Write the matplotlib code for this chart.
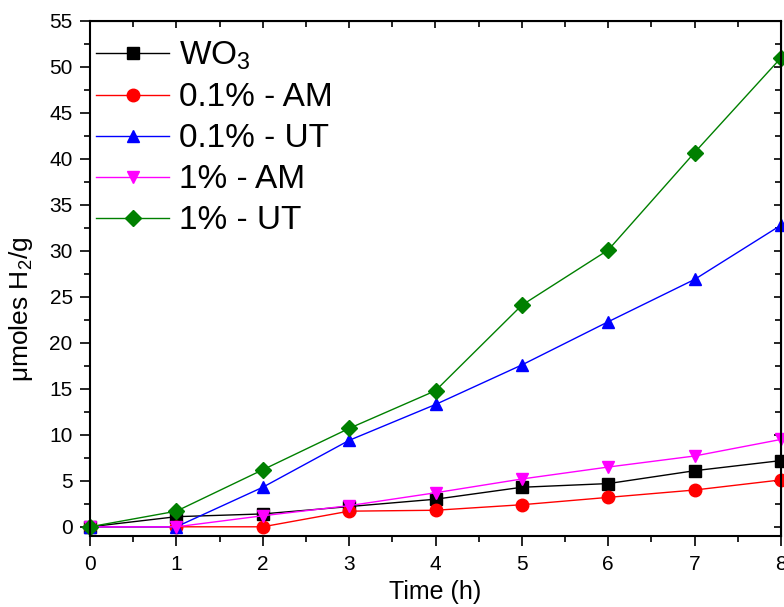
import numpy as np
import matplotlib
matplotlib.use("Agg")
import matplotlib.pyplot as plt
from matplotlib.ticker import MultipleLocator

plt.rcParams['font.family'] = ['Liberation Sans', 'DejaVu Sans']
plt.rcParams['mathtext.fontset'] = 'custom'
plt.rcParams['mathtext.rm'] = 'Liberation Sans'

hours = [0, 1, 2, 3, 4, 5, 6, 7, 8]
wo3 = [0, 1.1, 1.4, 2.2, 3.0, 4.3, 4.7, 6.1, 7.2]
am_01 = [0, 0, 0, 1.7, 1.8, 2.4, 3.2, 4.0, 5.1]
ut_01 = [0, 0, 4.3, 9.4, 13.3, 17.6, 22.3, 26.9, 32.8]
am_1 = [0, 0, 1.2, 2.3, 3.7, 5.2, 6.5, 7.7, 9.5]
ut_1 = [0, 1.7, 6.2, 10.7, 14.8, 24.1, 30.1, 40.7, 51.0]

labels = ['WO$_3$', '0.1% - AM', '0.1% - UT', '1% - AM', '1% - UT']
series = [wo3, am_01, ut_01, am_1, ut_1]
colors = ['black', 'red', 'blue', 'magenta', 'green']
markers = ['s', 'o', '^', 'v', 'D']
msizes = [8, 9, 9, 9, 8]

fig = plt.figure(figsize=(7.84, 6.07), dpi=100)
ax = fig.add_axes([90/784, 1-536/607, 691/784, 515/607])

for y, lab, c, m, ms in zip(series, labels, colors, markers, msizes):
    ax.plot(hours, y, color=c, marker=m, markersize=ms, linewidth=1, label=lab, clip_on=False)

ax.set_xlim(0, 8)
ax.set_ylim(-1, 55)
ax.xaxis.set_major_locator(MultipleLocator(1))
ax.xaxis.set_minor_locator(MultipleLocator(0.5))
ax.yaxis.set_major_locator(MultipleLocator(5))
ax.yaxis.set_minor_locator(MultipleLocator(2.5))
ax.tick_params(which='both', direction='out', labelsize=15, width=1.2)
ax.tick_params(which='major', length=7.5)
ax.tick_params(which='minor', length=4)
ax.tick_params(axis='x', which='major', pad=6.5)
ax.tick_params(axis='y', which='major', pad=5)
for s in ax.spines.values():
    s.set_linewidth(1.5)

ax.set_xlabel('Time (h)', fontsize=18, labelpad=4)
ax.set_ylabel('μmoles H$_2$/g', fontsize=19)
ax.yaxis.set_label_coords(-0.08, 0.44)

# inward ticks on top and right
top = ax.secondary_xaxis('top')
top.xaxis.set_major_locator(MultipleLocator(1))
top.xaxis.set_minor_locator(MultipleLocator(0.5))
top.tick_params(which='both', direction='in', labeltop=False, width=1.2)
top.tick_params(which='major', length=5)
top.tick_params(which='minor', length=4)
right = ax.secondary_yaxis('right')
right.yaxis.set_major_locator(MultipleLocator(5))
right.yaxis.set_minor_locator(MultipleLocator(2.5))
right.tick_params(which='both', direction='in', labelright=False, width=1.2)
right.tick_params(which='major', length=5)
right.tick_params(which='minor', length=4)

ax.legend(loc='upper left', frameon=False, fontsize=24, handlelength=2.2,
          handletextpad=0.3, labelspacing=0.3, borderaxespad=0.0,
          borderpad=0.45, bbox_to_anchor=(-0.013, 0.993))

fig.savefig('out.png', dpi=100)
